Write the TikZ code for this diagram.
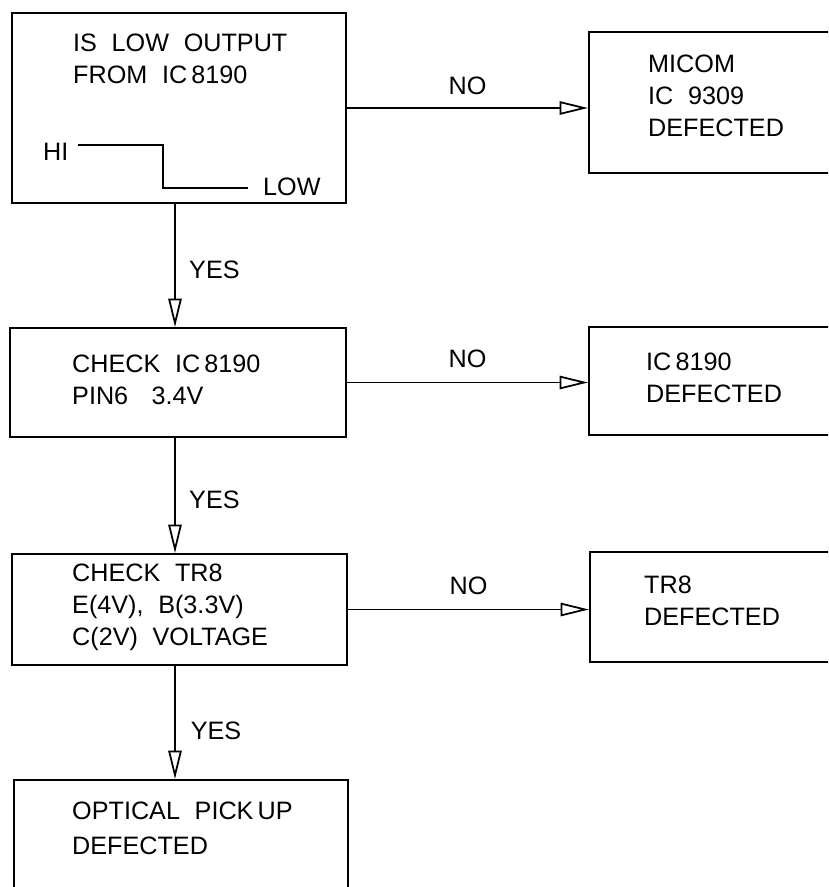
\documentclass[tikz,border=0pt]{standalone}
\usepackage{fontspec}
\setmainfont[WordSpace=2.1]{Liberation Sans}
\usetikzlibrary{arrows.meta,fit}
\newcommand{\stemx}{175}

\begin{document}
\begin{tikzpicture}[x=0.03cm,y=-0.03cm,
    box/.style={draw, line width=1.8pt, inner sep=0pt},
    txt/.style={anchor=north west, inner sep=0pt, align=left, font=\fontsize{21.5}{27}\selectfont},
    lbl/.style={inner sep=0pt, font=\fontsize{21.5}{27}\selectfont},
    flow/.style={line width=1.5pt, -{Triangle[open,length=0.85cm,width=0.4cm,line width=1.5pt]}}]

\useasboundingbox (0,0) rectangle (828,887);
\clip (0,0) rectangle (828,887);

% draw boxes
\node[box, fit={(12,13) (346,203)}] (lowq) {};
\node[box, fit={(589,32) (900,173)}] (micom) {};
\node[box, fit={(10,328) (346,437)}] (pin6) {};
\node[box, fit={(589,327) (900,435)}] (icbad) {};
\node[box, fit={(12,554) (347,665)}] (tr8) {};
\node[box, fit={(590,552) (900,662)}] (trbad) {};
\node[box, fit={(14,780) (348,950)}] (pickup) {};

% box texts
\node[txt] (t1) at (73,34) {IS LOW OUTPUT\\FROM IC\,8190};
\node[txt] (t2) at (648,55) {MICOM\\IC 9309\\DEFECTED};
\node[txt] (t3) at (72,355) {CHECK IC\,8190\\PIN6\hspace{0.7cm}3.4V};
\node[txt] (t4) at (646,353) {IC\,8190\\DEFECTED};
\node[txt] (t5) at (72,564) {CHECK TR8\\E(4V), B(3.3V)\\C(2V) VOLTAGE};
\node[txt] (t6) at (644,576) {TR8\\DEFECTED};
\node[txt] (t7) at (72,802) {OPTICAL PICK\,UP\\[3pt]DEFECTED};

% draw waveform
\node[lbl, anchor=west] (hi) at (43,152) {HI};
\node[lbl, anchor=west] (lo) at (263,187) {LOW};
\draw[line width=1.5pt] (78,145) -- (163,145) -- (163,188) -- (248,188);

% draw arrows
\coordinate (stem) at (\stemx,0);
\draw[flow] (lowq.east) -- (lowq.east -| micom.west) node[lbl, midway, above=0.36cm] {NO};
\draw[flow] (pin6.east) -- (pin6.east -| icbad.west) node[lbl, midway, above=0.42cm] {NO};
\draw[flow] (tr8.east) -- (tr8.east -| trbad.west) node[lbl, midway, above=0.42cm] {NO};

\draw[flow] (lowq.south -| stem) -- (pin6.north -| stem) node[lbl, midway, right=0.4cm, yshift=-0.12cm] {YES};
\draw[flow] (pin6.south -| stem) -- (tr8.north -| stem) node[lbl, midway, right=0.4cm, yshift=-0.14cm] {YES};
\draw[flow] (tr8.south -| stem) -- (pickup.north -| stem) node[lbl, midway, right=0.45cm, yshift=-0.25cm] {YES};

\end{tikzpicture}
\end{document}
